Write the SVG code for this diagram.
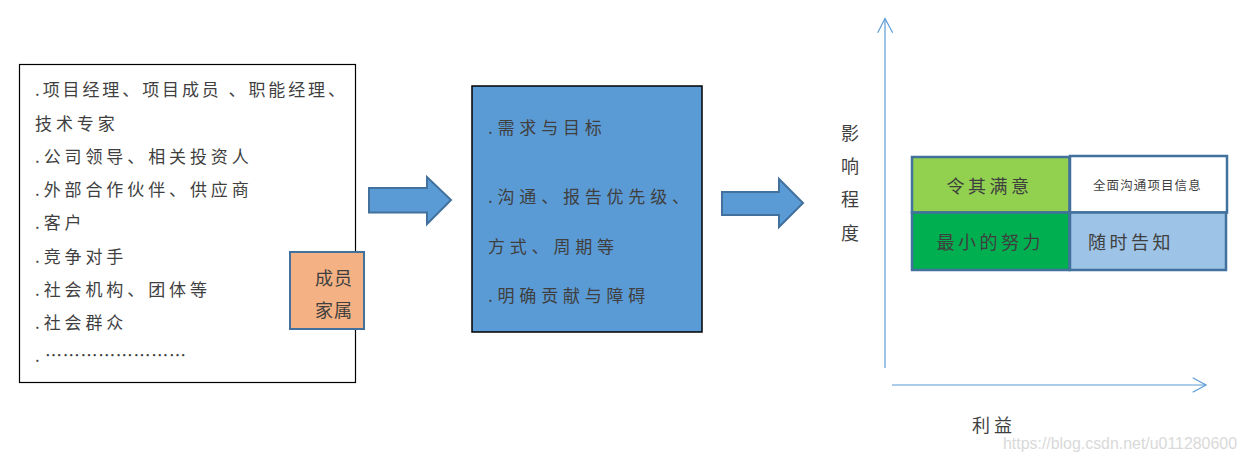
<svg xmlns="http://www.w3.org/2000/svg" width="1247" height="461" viewBox="0 0 1247 461">
<style>
text{font-family:"Noto Sans CJK SC","Noto Sans",sans-serif;fill:#3f3f3f}
.t{font-size:17px;letter-spacing:3.9px}
.m{font-size:17px;letter-spacing:4.8px}
.q{font-size:18px;letter-spacing:3.5px}
.blk{fill:#5b9bd5;stroke:#41719c;stroke-width:2}
.axis{fill:none;stroke:#5b9bd5;stroke-width:1.2}
.quad{stroke:#41719c;stroke-width:2.5}
</style>
<rect width="1247" height="461" fill="#ffffff"/>
<g id="stakeholders">
<rect x="19.5" y="64.5" width="336" height="318" fill="#ffffff" stroke="#000000" stroke-width="1.2"/>
<text x="35" y="96" style="font-size:17px" textLength="310" lengthAdjust="spacing">.项目经理、项目成员 、职能经理、</text>
<text class="t" x="35" y="130">技术专家</text>
<text class="t" x="35" y="163">.公司领导、相关投资人</text>
<text class="t" x="35" y="196">.外部合作伙伴、供应商</text>
<text class="t" x="35" y="229">.客户</text>
<text class="t" x="35" y="263">.竞争对手</text>
<text class="t" x="35" y="296">.社会机构、团体等</text>
<text class="t" x="35" y="329">.社会群众</text>
<text x="35" y="362" style="font-size:17px" textLength="151" lengthAdjust="spacing">. ……………………</text>
</g>
<g id="family">
<rect x="290" y="252" width="74" height="77" fill="#f4b183" stroke="#41719c" stroke-width="2"/>
<text x="315" y="285" style="font-size:18px;letter-spacing:1px">成员</text>
<text x="315" y="317" style="font-size:18px;letter-spacing:1px">家属</text>
</g>
<g id="needs">
<rect x="472" y="86" width="230" height="246" fill="#5b9bd5" stroke="#000000" stroke-width="1.5"/>
<text class="m" x="488" y="134">.需求与目标</text>
<text class="m" x="488" y="203">.沟通、报告优先级、</text>
<text class="m" x="488" y="253">方式、周期等</text>
<text class="m" x="488" y="302">.明确贡献与障碍</text>
</g>
<g id="connectors">
<polygon class="blk" points="369,188 427,188 427,177 451,200 427,224 427,212.5 369,212.5"/>
<polygon class="blk" points="722,192 779,192 779,179 803,203 779,227 779,215 722,215"/>
<line class="axis" x1="885" y1="368" x2="885" y2="18.5"/>
<polyline class="axis" points="877.7,32.7 885,18.5 892.7,32.7"/>
<line class="axis" x1="892" y1="385" x2="1206" y2="385"/>
<polyline class="axis" points="1192.7,377.7 1206,385 1192.7,392.3"/>
</g>
<g id="axis-labels">
<text x="841" y="140" style="font-size:18px">影</text>
<text x="841" y="173" style="font-size:18px">响</text>
<text x="841" y="206" style="font-size:18px">程</text>
<text x="841" y="240" style="font-size:18px">度</text>
<text x="972" y="432" style="font-size:18px;letter-spacing:4px">利益</text>
</g>
<g id="q-satisfy">
<rect class="quad" x="912" y="157" width="157.5" height="55.5" fill="#92d050"/>
<text class="q" x="946.5" y="193">令其满意</text>
</g>
<g id="q-inform-fully">
<rect class="quad" x="1070" y="156" width="157" height="56.5" fill="#ffffff"/>
<text x="1093" y="190" style="font-size:12.5px;letter-spacing:1.1px">全面沟通项目信息</text>
</g>
<g id="q-minimum">
<rect class="quad" x="912" y="212.5" width="157.5" height="57.5" fill="#00b050"/>
<text class="q" x="936.5" y="249">最小的努力</text>
</g>
<g id="q-inform">
<rect class="quad" x="1070" y="212.5" width="156" height="57.5" fill="#9dc3e6"/>
<text class="q" x="1088" y="249">随时告知</text>
</g>
<text x="1003" y="449" style="font-family:'Liberation Sans',sans-serif;font-size:16.5px;fill:#d9d9d9" textLength="234" lengthAdjust="spacingAndGlyphs">https://blog.csdn.net/u011280600</text>
</svg>
